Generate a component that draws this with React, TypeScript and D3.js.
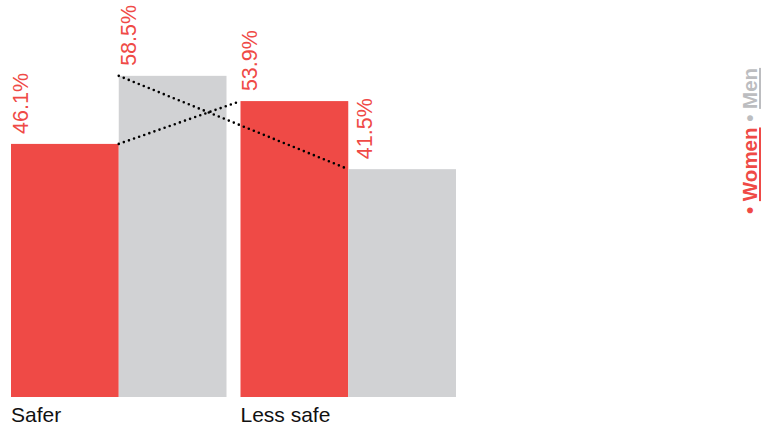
import React from "react";
import * as d3 from "d3";

const categories = ["Safer", "Less safe"];
const seriesNames = ["Women", "Men"];
const women = [46.1, 53.9];
const men = [58.5, 41.5];

const W = 761;
const H = 426;
const RED = "#ef4a46";
const GRAY = "#d1d2d4";
const LEGEND_GRAY = "#bcbdc0";
const FONT = "'Liberation Sans', Arial, Helvetica, sans-serif";

export default function App() {
  const baseline = 397;
  const y = d3.scaleLinear().domain([0, 60]).range([baseline, baseline - 60 * 5.49]);
  const x0 = d3.scaleBand().domain(categories).range([11, 456]).paddingInner(0.061).paddingOuter(0);
  const x1 = d3.scaleBand().domain(seriesNames).range([0, x0.bandwidth()]);
  const values: Record<string, number[]> = { Women: women, Men: men };
  const colors: Record<string, string> = { Women: RED, Men: GRAY };

  const bars = categories.flatMap((c, i) =>
    seriesNames.map((s) => ({
      c,
      s,
      i,
      v: values[s][i],
      x: (x0(c) as number) + (x1(s) as number),
      w: x1.bandwidth(),
    }))
  );

  const womenLine = [
    [(x0(categories[0]) as number) + (x1("Women") as number) + x1.bandwidth(), y(women[0])],
    [(x0(categories[1]) as number) + (x1("Women") as number), y(women[1])],
  ];
  const menLine = [
    [(x0(categories[0]) as number) + (x1("Men") as number), y(men[0])],
    [(x0(categories[1]) as number) + (x1("Men") as number), y(men[1])],
  ];
  const line = d3.line();

  return (
    <svg width={W} height={H} style={{ position: "absolute", left: 0, top: 0, display: "block" }}>
      {bars.map((b) => (
        <rect key={b.c + b.s} x={b.x} y={y(b.v)} width={b.w} height={baseline - y(b.v)} fill={colors[b.s]} />
      ))}
      {[womenLine, menLine].map((pts, k) => (
        <path
          key={k}
          d={line(pts as [number, number][]) as string}
          stroke="#000"
          strokeWidth={2.6}
          strokeDasharray="0 5.4"
          strokeLinecap="round"
          fill="none"
        />
      ))}
      {bars.map((b) => {
        const nudge = b.c === "Less safe" && b.s === "Men" ? 7 : 0;
        const tx = b.x + 17 + nudge;
        const ty = y(b.v) - 10;
        return (
          <text
            key={"l" + b.c + b.s}
            transform={`translate(${tx},${ty}) rotate(-90)`}
            fill={RED}
            fontFamily={FONT}
            fontSize={21.5}
          >
            {b.v.toFixed(1)}%
          </text>
        );
      })}
      {categories.map((c) => (
        <text key={c} x={x0(c) as number} y={422} fontFamily={FONT} fontSize={21} fill="#111">
          {c}
        </text>
      ))}
      <text transform={`translate(757,214) rotate(-90)`} fontFamily={FONT} fontSize={20.5} fontWeight="bold">
        <tspan fill={RED}>• </tspan>
        <tspan fill={RED} textDecoration="underline">Women</tspan>
        <tspan fill={LEGEND_GRAY}> • </tspan>
        <tspan fill={LEGEND_GRAY} textDecoration="underline">Men</tspan>
      </text>
    </svg>
  );
}
